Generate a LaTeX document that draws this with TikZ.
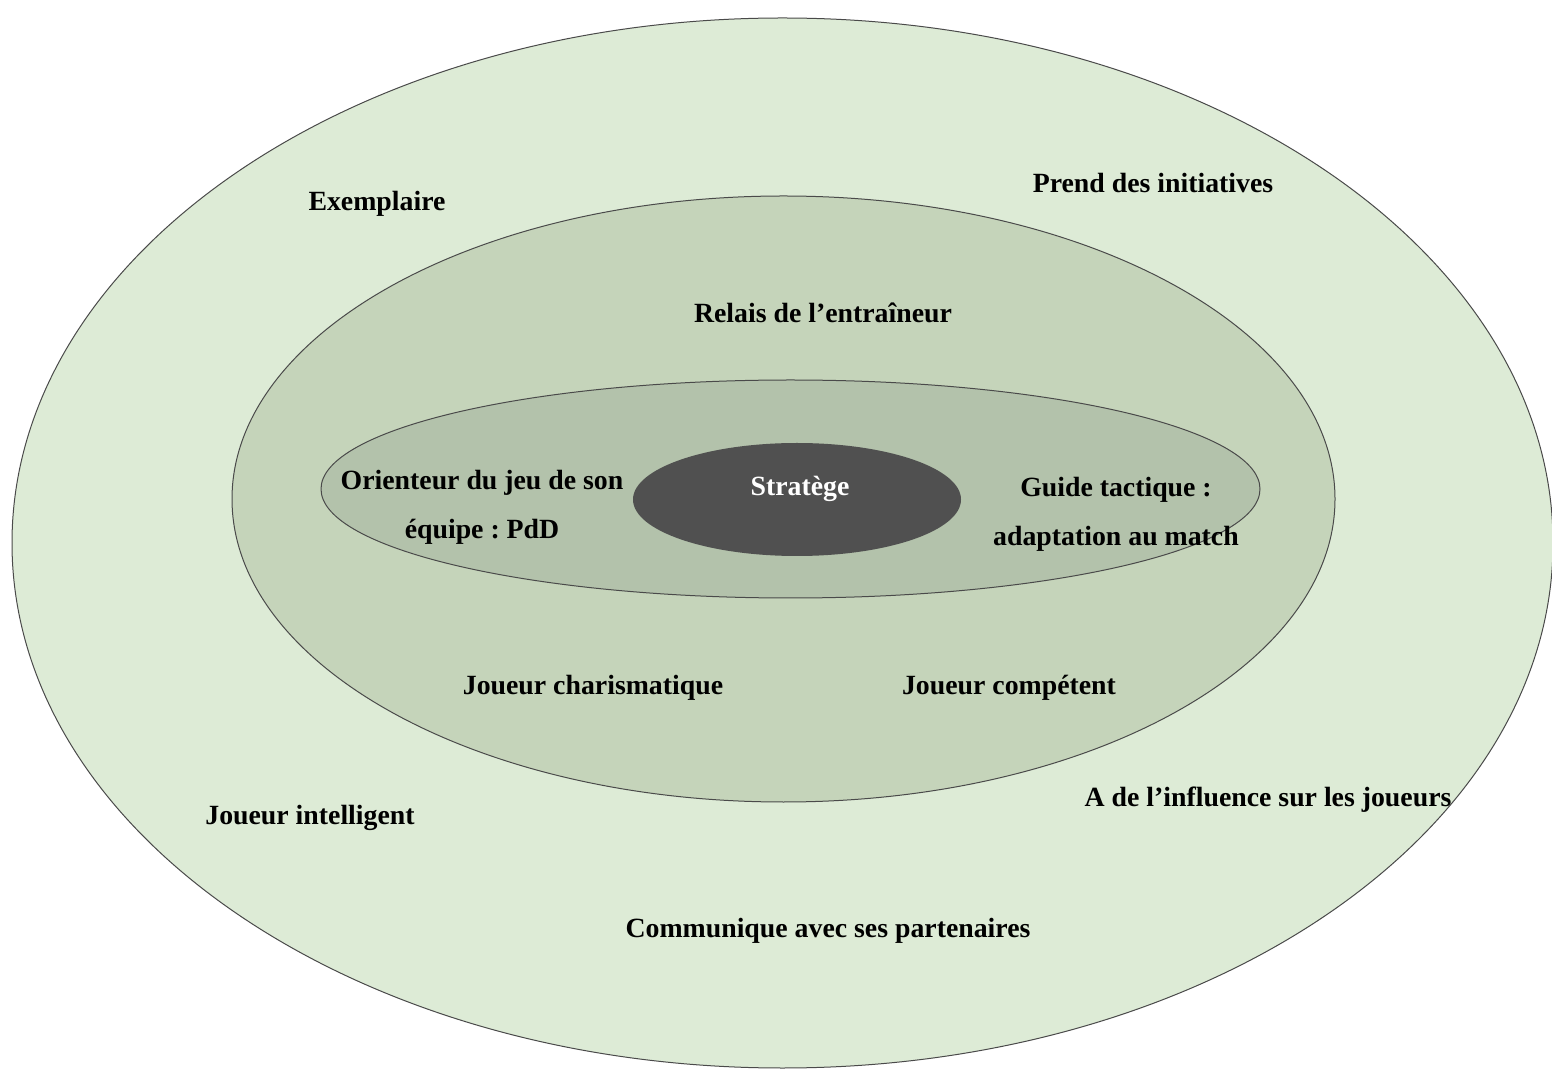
\documentclass[tikz,border=0pt]{standalone}
\usepackage{fontspec}
\setmainfont{Liberation Serif}
\usetikzlibrary{shapes.geometric}
\frenchspacing
\definecolor{ringA}{HTML}{DDEBD6}
\definecolor{ringB}{HTML}{C5D4BA}
\definecolor{ringC}{HTML}{B3C2AB}
\definecolor{coreC}{HTML}{505050}
\definecolor{edgeC}{HTML}{4A4A4A}
\tikzset{
  ring/.style={ellipse, inner sep=0pt, draw=edgeC, line width=1pt},
  lbl/.style={font=\fontsize{27.8}{49}\selectfont\bfseries\frenchspacing, align=center, inner sep=0pt, text=black}
}
\begin{document}
\begin{tikzpicture}[x=1pt,y=1pt]
\useasboundingbox (0,0) rectangle (1552,1069);
\clip (0,0) rectangle (1552,1069);
\node[ring, fill=ringA, minimum width=1541pt, minimum height=1050pt] (outer) at (782.5,526) {};
\node[ring, fill=ringB, minimum width=1103pt, minimum height=606pt] (middle) at (783.5,570) {};
\node[ring, fill=ringC, minimum width=939pt, minimum height=218pt] (inner) at (790.5,580) {};
\node[ellipse, inner sep=0pt, fill=coreC, minimum width=328pt, minimum height=113pt] (core) at (797,569.5) {};
\node[lbl, text=white] (strat) at (800,580) {Stratège};
\node[lbl] (exemp) at (377,865) {Exemplaire};
\node[lbl] (prend) at (1153,886) {Prend des initiatives};
\node[lbl] (relais) at (823,756) {Relais de l’entraîneur};
\node[lbl] (orient) at (482,561.5) {Orienteur du jeu de son\\équipe : PdD};
\node[lbl] (guide) at (1116,555) {Guide tactique :\\adaptation au match};
\node[lbl] (charis) at (593,381) {Joueur charismatique};
\node[lbl] (compet) at (1009,381) {Joueur compétent};
\node[lbl] (influ) at (1268,269) {A de l’influence sur les joueurs};
\node[lbl] (intel) at (310,251) {Joueur intelligent};
\node[lbl] (commu) at (828,138) {Communique avec ses partenaires};
\end{tikzpicture}
\end{document}
